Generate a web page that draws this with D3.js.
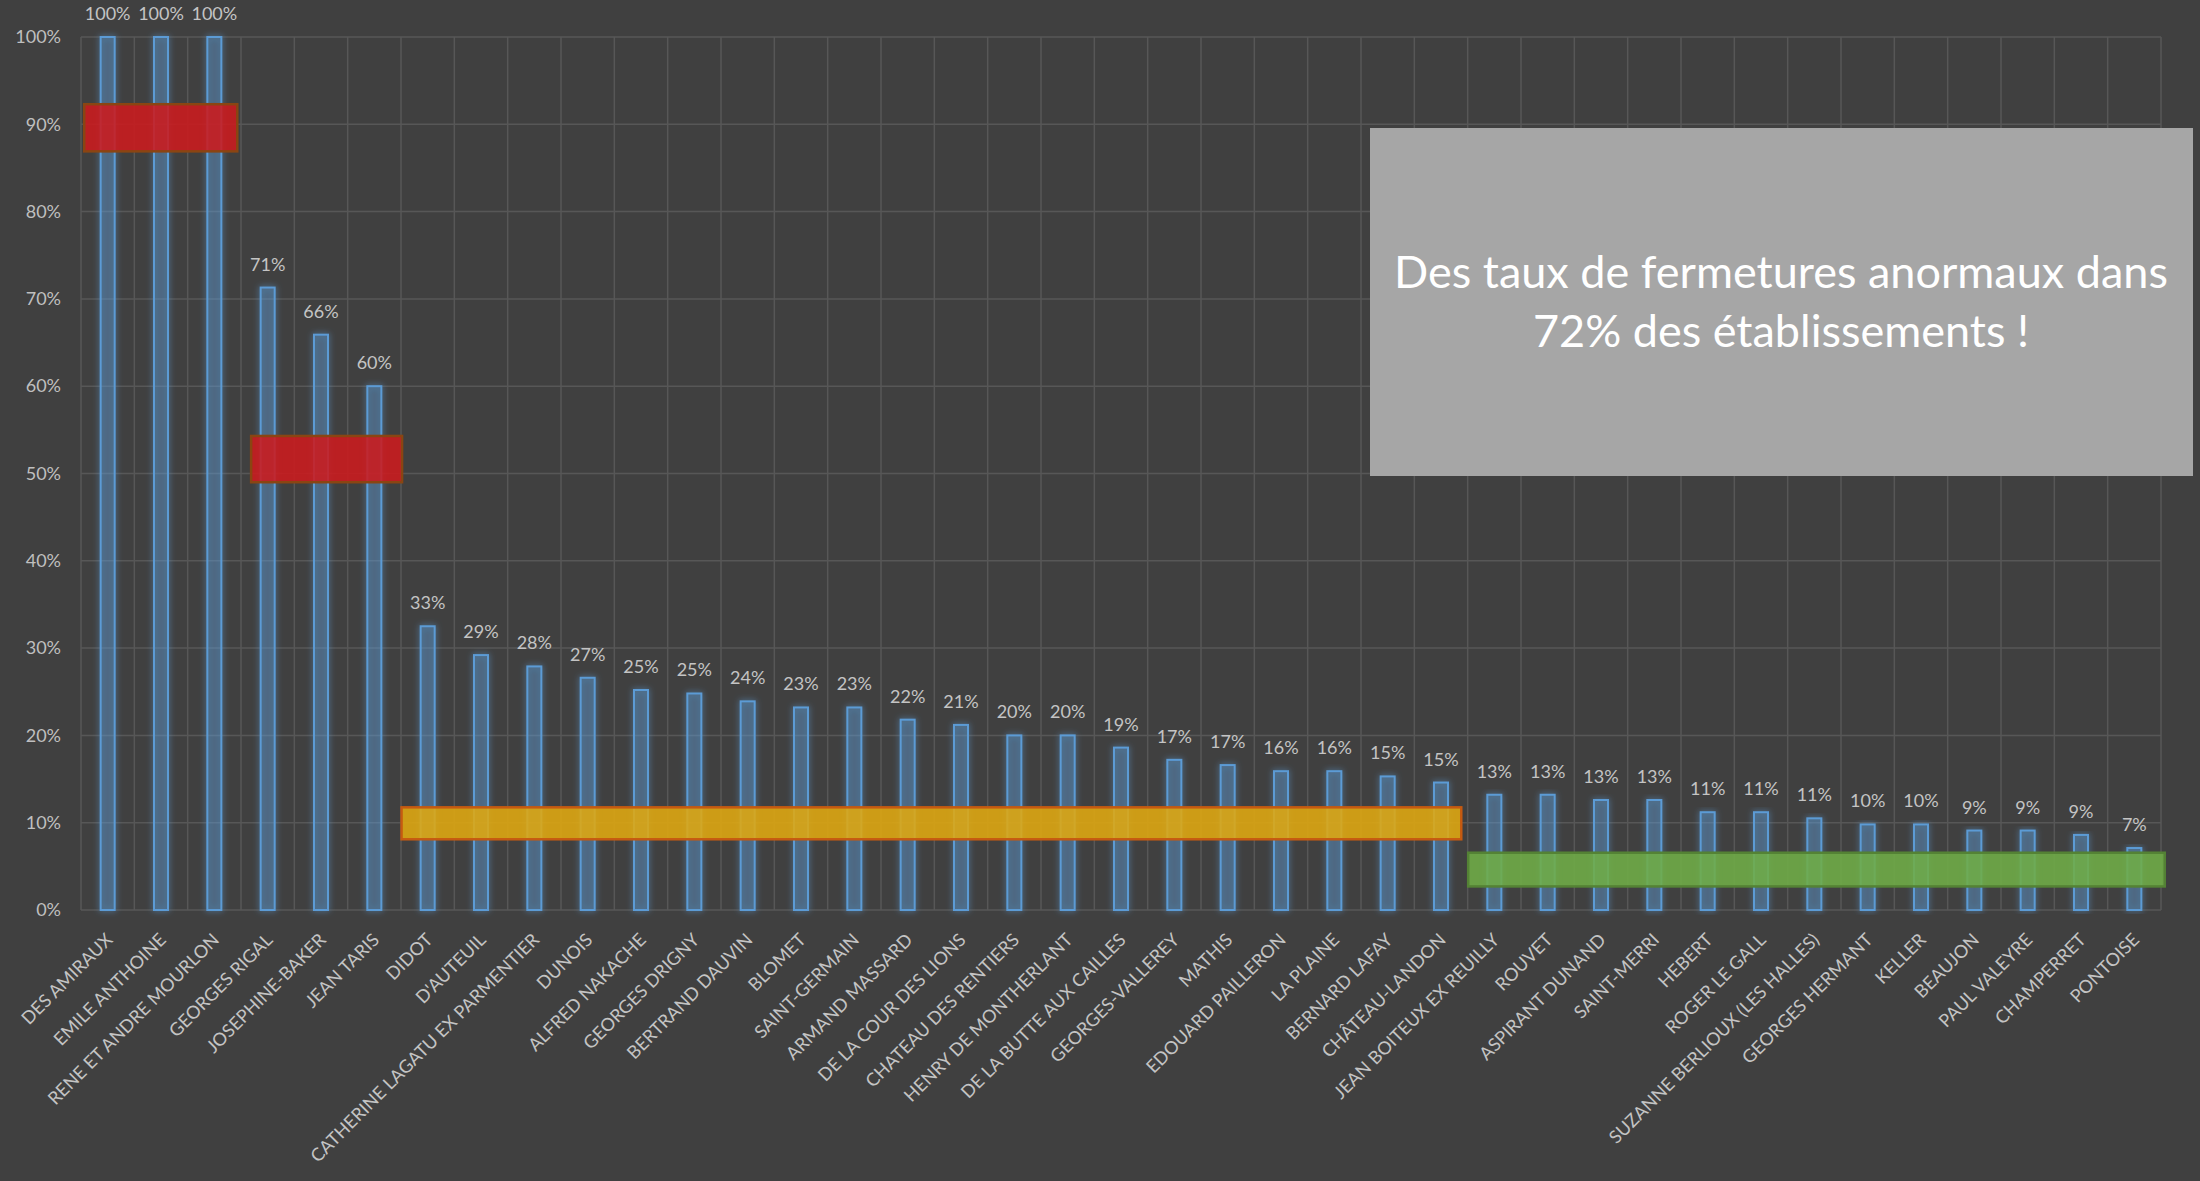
<!doctype html>
<html>
<head>
<meta charset="utf-8">
<title>Taux de fermetures par établissement</title>
<style>
  body { margin: 0; background: #404040; }
  svg text { font-family: Lato, "Open Sans", sans-serif; }
</style>
<script src="https://d3js.org/d3.v7.min.js"></script>
</head>
<body>
<div id="chart"></div>
<script>
// établissements, triés par taux de fermeture
const schools = [
  "DES AMIRAUX", "EMILE ANTHOINE", "RENE ET ANDRE MOURLON", "GEORGES RIGAL",
  "JOSEPHINE-BAKER", "JEAN TARIS", "DIDOT", "D'AUTEUIL",
  "CATHERINE LAGATU EX PARMENTIER", "DUNOIS", "ALFRED NAKACHE", "GEORGES DRIGNY",
  "BERTRAND DAUVIN", "BLOMET", "SAINT-GERMAIN", "ARMAND MASSARD",
  "DE LA COUR DES LIONS", "CHATEAU DES RENTIERS", "HENRY DE MONTHERLANT",
  "DE LA BUTTE AUX CAILLES", "GEORGES-VALLEREY", "MATHIS", "EDOUARD PAILLERON",
  "LA PLAINE", "BERNARD LAFAY", "CHÂTEAU-LANDON", "JEAN BOITEUX EX REUILLY",
  "ROUVET", "ASPIRANT DUNAND", "SAINT-MERRI", "HEBERT", "ROGER LE GALL",
  "SUZANNE BERLIOUX (LES HALLES)", "GEORGES HERMANT", "KELLER", "BEAUJON",
  "PAUL VALEYRE", "CHAMPERRET", "PONTOISE"
];
const rates = [
  1.00, 1.00, 1.00, 0.713, 0.659, 0.600, 0.325, 0.292, 0.279, 0.266,
  0.252, 0.248, 0.239, 0.232, 0.232, 0.218, 0.212, 0.200, 0.200, 0.186,
  0.172, 0.166, 0.159, 0.159, 0.153, 0.146, 0.132, 0.132, 0.126, 0.126,
  0.112, 0.112, 0.105, 0.098, 0.098, 0.091, 0.091, 0.086, 0.071
];
const yTicks = [0, 0.1, 0.2, 0.3, 0.4, 0.5, 0.6, 0.7, 0.8, 0.9, 1.0];

// bandes de surlignage (en unités de catégorie, et en taux)
const hlStart = [0.06, 3.19, 6.01, 26.01];
const hlEnd   = [2.93, 6.02, 25.88, 39.07];
const hlLow   = [0.869, 0.490, 0.081, 0.027];
const hlHigh  = [0.923, 0.543, 0.1176, 0.0656];
const hlFill   = ["#cc1a1e", "#cc1a1e", "#e0a810", "#70ad47"];
const hlStroke = ["#8a4512", "#8a4512", "#c55a11", "#548235"];

const message = ["Des taux de fermetures anormaux dans", "72% des établissements !"];

const W = 2200, H = 1181;
const plot = { left: 81, right: 2161, top: 37, bottom: 910 };

const svg = d3.select("#chart").append("svg")
  .attr("width", W).attr("height", H);

const defs = svg.append("defs");
defs.append("filter").attr("id", "glow")
  .attr("x", "-60%").attr("y", "-5%").attr("width", "220%").attr("height", "110%")
  .append("feDropShadow")
    .attr("dx", 0).attr("dy", 0).attr("stdDeviation", 3)
    .attr("flood-color", "#5b9bd5").attr("flood-opacity", 0.8);

const x = d3.scaleBand().domain(schools).range([plot.left, plot.right]).padding(0);
const xi = d3.scaleLinear().domain([0, schools.length]).range([plot.left, plot.right]);
const y = d3.scaleLinear().domain([0, 1]).range([plot.bottom, plot.top]);

// grille horizontale
svg.append("g").selectAll("line").data(yTicks).join("line")
  .attr("x1", plot.left).attr("x2", plot.right)
  .attr("y1", d => y(d)).attr("y2", d => y(d))
  .attr("stroke", "#575757").attr("stroke-width", 1.5);

// grille verticale
svg.append("g").selectAll("line").data(d3.range(schools.length + 1)).join("line")
  .attr("x1", d => xi(d)).attr("x2", d => xi(d))
  .attr("y1", plot.top).attr("y2", plot.bottom)
  .attr("stroke", "#575757").attr("stroke-width", 1.5);

// axe Y
const yAxis = svg.append("g")
  .attr("transform", `translate(${plot.left},0)`)
  .call(d3.axisLeft(y).tickValues(yTicks).tickFormat(d3.format(".0%")).tickSize(0).tickPadding(20));
yAxis.select(".domain").remove();
yAxis.selectAll("text").attr("fill", "#bfbfbf").style("font-size", "18px");

// barres
const bw = 14;
svg.append("g").selectAll("rect").data(rates).join("rect")
  .attr("x", (d, i) => x(schools[i]) + x.bandwidth() / 2 - bw / 2)
  .attr("y", d => y(d))
  .attr("width", bw)
  .attr("height", d => y(0) - y(d))
  .attr("fill", "rgba(91,155,213,0.27)")
  .attr("stroke", "#5b9bd5")
  .attr("stroke-width", 2)
  .attr("filter", "url(#glow)");

// étiquettes de valeurs
svg.append("g").selectAll("text").data(rates).join("text")
  .attr("x", (d, i) => x(schools[i]) + x.bandwidth() / 2)
  .attr("y", d => y(d) - 17)
  .attr("text-anchor", "middle")
  .attr("fill", "#c4c4c4")
  .style("font-size", "18px")
  .text(d => d3.format(".0%")(d));

// étiquettes de catégories
svg.append("g").selectAll("text").data(schools).join("text")
  .attr("transform", d => `translate(${x(d) + x.bandwidth() / 2 + 6},941) rotate(-45)`)
  .attr("text-anchor", "end")
  .attr("fill", "#c4c4c4")
  .style("font-size", "18px")
  .text(d => d);

// bandes de surlignage
svg.append("g").selectAll("rect").data(hlStart).join("rect")
  .attr("x", (d, i) => xi(d))
  .attr("y", (d, i) => y(hlHigh[i]))
  .attr("width", (d, i) => xi(hlEnd[i]) - xi(d))
  .attr("height", (d, i) => y(hlLow[i]) - y(hlHigh[i]))
  .attr("fill", (d, i) => hlFill[i])
  .attr("fill-opacity", 0.88)
  .attr("stroke", (d, i) => hlStroke[i])
  .attr("stroke-width", 2.5);

// encadré
const box = svg.append("g");
box.append("rect")
  .attr("x", 1370).attr("y", 128).attr("width", 823).attr("height", 348)
  .attr("fill", "#a6a6a6");
box.selectAll("text").data(message).join("text")
  .attr("x", 1781)
  .attr("y", (d, i) => 288 + i * 59)
  .attr("text-anchor", "middle")
  .attr("fill", "#ffffff")
  .style("font-size", "45px")
  .text(d => d);
</script>
</body>
</html>
